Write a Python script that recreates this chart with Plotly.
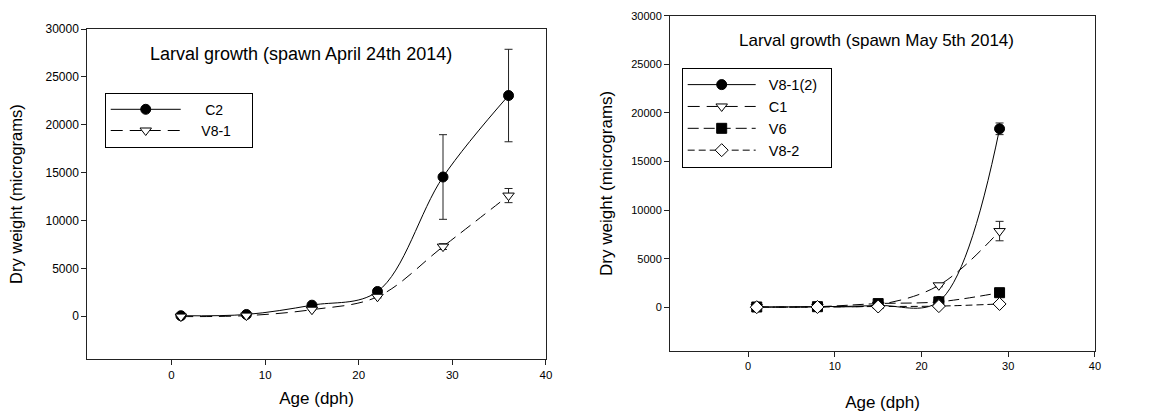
import plotly.graph_objects as go

# ---- data ----
age_left = [1, 8, 15, 22, 29, 36]
c2 = [50, 180, 1150, 2580, 14540, 23050]
c2_err = [60, 80, 150, 200, 4420, 4830]
v81 = [-40, 60, 680, 2030, 7270, 12600]
v81_err = [40, 50, 80, 120, 300, 740]

age_right = [1, 8, 15, 22, 29]
v812 = [30, 60, 180, 600, 18360]
v812_err = [30, 40, 60, 100, 600]
c1 = [20, 50, 260, 2260, 7840]
c1_err = [20, 30, 60, 150, 1000]
v6 = [30, 60, 380, 560, 1500]
v8_2 = [10, 30, 80, 120, 340]

y_ticks = [0, 5000, 10000, 15000, 20000, 25000, 30000]
x_ticks = [0, 10, 20, 30, 40]

FONT = "Liberation Sans, Arial, sans-serif"
NB = "\u00a0"
fig = go.Figure()

def add(x, y, name, symbol, fill, dash, err, xa, ya, legend):
    fig.add_trace(go.Scatter(
        x=x, y=y, name=name, mode="lines+markers",
        line=dict(color="black", width=1, dash=dash, shape="spline", smoothing=1.0),
        marker=dict(symbol=symbol, size=10, color=fill, line=dict(color="black", width=1)),
        error_y=dict(type="data", array=err, visible=True, color="#222", thickness=1, width=4) if err is not None else None,
        xaxis=xa, yaxis=ya, legend=legend))

add(age_left, c2, NB * 5 + "C2" + NB * 4, "circle", "black", "solid", c2_err, "x", "y", "legend")
add(age_left, v81, NB * 4 + "V8-1" + NB * 4, "triangle-down", "white", "12px,7px", v81_err, "x", "y", "legend")

add(age_right, v812, NB * 2 + "V8-1(2)" + NB * 2, "circle", "black", "solid", v812_err, "x2", "y2", "legend2")
add(age_right, c1, NB * 2 + "C1", "triangle-down", "white", "12px,7px", c1_err, "x2", "y2", "legend2")
add(age_right, v6, NB * 2 + "V6", "square", "black", "11px,5px", None, "x2", "y2", "legend2")
add(age_right, v8_2, NB * 2 + "V8-2", "diamond", "white", "7px,4px", None, "x2", "y2", "legend2")

def axis_common(size):
    return dict(showline=True, linecolor="#222", linewidth=1, mirror=True,
                ticks="outside", ticklen=5, tickcolor="#222", showgrid=False,
                zeroline=False, tickformat="d",
                tickfont=dict(family=FONT, size=size, color="black"))

fig.update_layout(
    template="none",
    width=1156, height=412, margin=dict(l=0, r=0, t=0, b=0),
    paper_bgcolor="white", plot_bgcolor="white",
    font=dict(family=FONT, color="black"),
    xaxis=dict(domain=[0.0755, 0.4723], range=[-9, 40], tickvals=x_ticks,
               title=dict(text="Age (dph)", font=dict(size=17), standoff=12), anchor="y", **axis_common(11.5)),
    yaxis=dict(domain=[0.128, 0.9296], range=[-4500, 30000], tickvals=y_ticks,
               title=dict(text="Dry weight (micrograms)", font=dict(size=16.5), standoff=18), anchor="x", **axis_common(12)),
    xaxis2=dict(domain=[0.5796, 0.9472], range=[-9, 40], tickvals=x_ticks,
                title=dict(text="Age (dph)", font=dict(size=17), standoff=24), anchor="y2", **axis_common(11)),
    yaxis2=dict(domain=[0.148, 0.962], range=[-4500, 30000], tickvals=y_ticks,
                title=dict(text="Dry weight (micrograms)", font=dict(size=17), standoff=14), anchor="x2", **axis_common(11)),
    legend=dict(x=0.0906, y=0.775, xanchor="left", yanchor="top", bordercolor="black", borderwidth=1,
                bgcolor="white", font=dict(family=FONT, size=14), itemwidth=70, tracegroupgap=0),
    legend2=dict(x=0.5897, y=0.8357, xanchor="left", yanchor="top", bordercolor="black", borderwidth=1,
                 bgcolor="white", font=dict(family=FONT, size=14.5), itemwidth=68, tracegroupgap=0),
    annotations=[
        dict(text="Larval growth (spawn April 24th 2014)", xref="paper", yref="paper", x=0.2604, y=0.869,
             xanchor="center", yanchor="middle", showarrow=False, font=dict(family=FONT, size=18)),
        dict(text="Larval growth (spawn May 5th 2014)", xref="paper", yref="paper", x=0.7578, y=0.9005,
             xanchor="center", yanchor="middle", showarrow=False, font=dict(family=FONT, size=17)),
    ],
)

fig.write_html("out.html")
